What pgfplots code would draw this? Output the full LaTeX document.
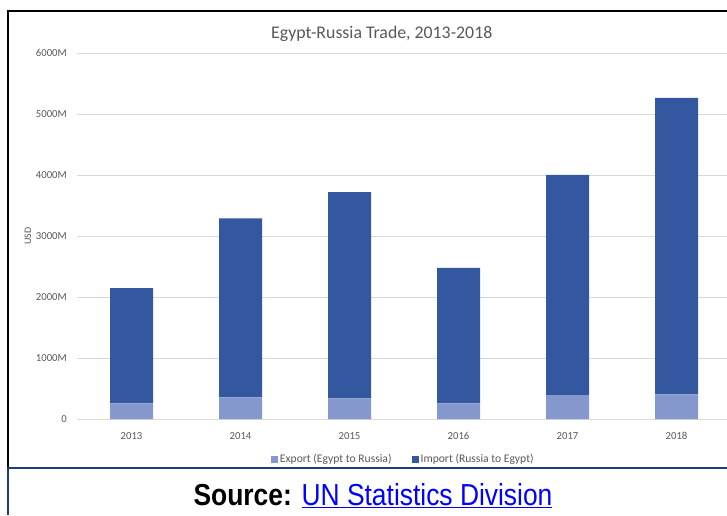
\documentclass[border=0pt]{standalone}
\usepackage{pgfplots}
\pgfplotsset{compat=1.18}
\usepackage{fontspec}
\setmainfont{Carlito}
\newfontfamily\arial{Liberation Sans}
\definecolor{imp}{HTML}{3458A0}
\definecolor{expc}{HTML}{8498CD}
\definecolor{txt}{HTML}{595959}
\definecolor{gridc}{HTML}{D9D9D9}
\definecolor{navy}{HTML}{1F3A78}
\definecolor{linkblue}{HTML}{0000FF}
\begin{document}
\begin{tikzpicture}
\useasboundingbox (0pt,0pt) rectangle (727pt,515pt);
\fill[white] (0pt,0pt) rectangle (727pt,515pt);
\draw[black, line width=2pt] (8pt,47pt) -- (8pt,503.5pt) -- (740pt,503.5pt);
\draw[navy, line width=2pt] (8pt,0pt) -- (8pt,47pt) -- (740pt,47pt);
\begin{axis}[
  at={(77pt,96pt)}, anchor=south west,
  scale only axis, width=654pt, height=366pt,
  ybar stacked, bar width=43pt,
  xmin=-0.5, xmax=5.5, ymin=0, ymax=6000,
  xtick={0,1,2,3,4,5},
  xticklabels={{2013},{2014},{2015},{2016},{2017},{2018}},
  ytick={0,1000,2000,3000,4000,5000,6000},
  yticklabels={{0},{1000M},{2000M},{3000M},{4000M},{5000M},{6000M}},
  axis line style={draw=none},
  major tick length=0pt,
  ymajorgrids, grid style={gridc, line width=0.9pt},
  tick label style={font=\fontsize{10.7}{12}\selectfont, text=txt},
  xticklabel style={anchor=base, yshift=-20.5pt},
  yticklabel style={anchor=east, inner sep=0pt, xshift=-10pt},
  ylabel={USD},
  ylabel style={at={(axis description cs:-0.075,0.5)}, anchor=center, font=\fontsize{10}{12}\selectfont, text=txt},
  every axis title shift=0pt,
  title={Egypt-Russia Trade, 2013-2018},
  title style={at={(axis description cs:0.466,1.0402)}, anchor=base, inner sep=0pt, font=\fontsize{17.8}{20}\selectfont, text=txt},
  legend style={at={(0.499,-0.1093)}, anchor=center, draw=none, fill=none,
    font=\fontsize{11.6}{13}\selectfont, text=txt, legend columns=2,
    /tikz/every even column/.append style={column sep=18pt}},
]
\addplot[fill=expc, draw=none, legend image code/.code={\fill[expc] (0pt,-3.5pt) rectangle (7pt,3.5pt);}]
  coordinates {(0,257) (1,356) (2,339) (3,257) (4,393) (5,405)};
\addlegendentry{Export (Egypt to Russia)}
\addplot[fill=imp, draw=none, legend image code/.code={\fill[imp] (0pt,-3.5pt) rectangle (7pt,3.5pt);}]
  coordinates {(0,1890) (1,2933) (2,3379) (3,2221) (4,3609) (5,4861)};
\addlegendentry{Import (Russia to Egypt)}
\end{axis}
\node[anchor=base, inner sep=0pt, yscale=1.15] at (373pt,9.5pt) {\arial\fontsize{26.4}{30}\selectfont\textbf{Source:} \textcolor{linkblue}{\underline{UN Statistics Division}}};
\end{tikzpicture}
\end{document}
